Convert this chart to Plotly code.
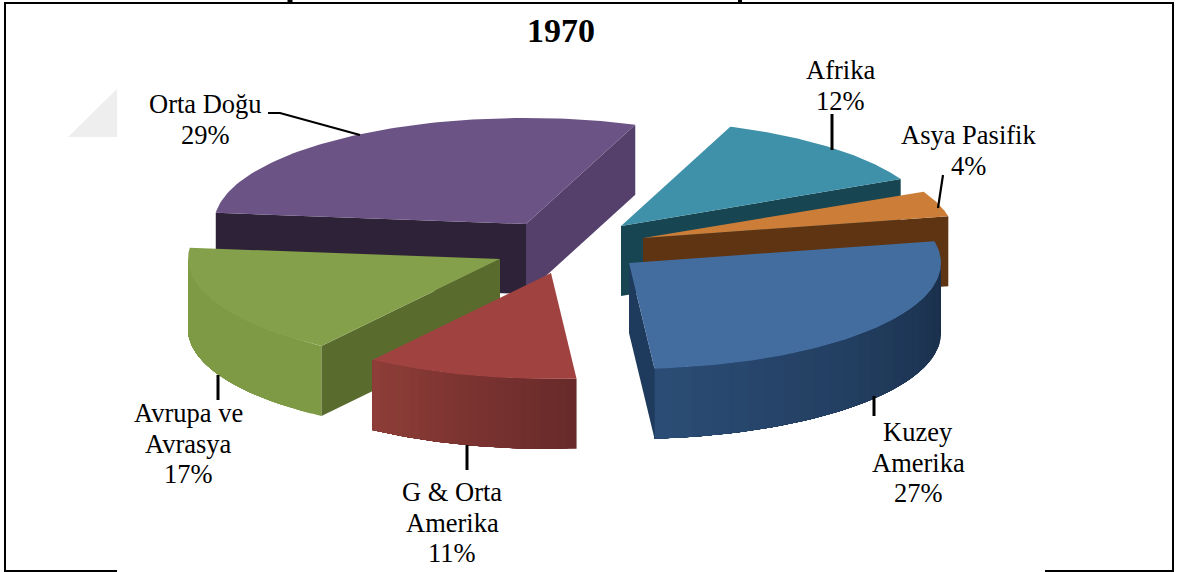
import numpy as np
import plotly.graph_objects as go

# ---- data ----
regions = ["Afrika", "Asya Pasifik", "Kuzey<br>Amerika", "G & Orta<br>Amerika", "Avrupa ve<br>Avrasya", "Orta Doğu"]
shares = [12, 4, 27, 11, 17, 29]
title_text = "1970"

# ---- pie geometry (per slice, same order as the data) ----
ROT = 20.5
RX, RY = 312, 106
DEPTH = 70
apex_x = [621, 643, 629, 551, 500, 526]
apex_y = [226, 238, 263, 273, 259, 224]
top_col = ["#3F91A9", "#CC7E38", "#436C9F", "#A04240", "#84A04A", "#6B5385"]
rim_a = ["#2F7488", "#8A5420", "#2B4C74", "#8E3D38", "#7E9A45", "#54406B"]
rim_b = ["#2F7488", "#8A5420", "#192E4A", "#682A2A", "#7E9A45", "#54406B"]
start_face = [None, None, None, None, "#5A6B2E", "#2E2238"]
end_face = ["#174552", "#5F3412", "#1E3A5C", None, None, "#54406B"]
label_x = [840, 968, 918, 452, 188, 205]
label_y = [70, 135, 432, 492, 413, 104]
draw_order = [5, 0, 1, 2, 4, 3]
LINE_STEP = 30.7


def hexmix(a, b, t):
    ca = [int(a[i:i + 2], 16) for i in (1, 3, 5)]
    cb = [int(b[i:i + 2], 16) for i in (1, 3, 5)]
    return "rgb(%d,%d,%d)" % tuple(round(x + (y - x) * t) for x, y in zip(ca, cb))


def rim_xy(i, theta):
    t = np.radians(theta)
    return apex_x[i] + RX * np.sin(t), apex_y[i] - RY * np.cos(t)


def poly(x, y, color):
    return go.Scatter(x=list(x), y=list(y), mode="lines", fill="toself", fillcolor=color,
                      line=dict(color=color, width=0), hoverinfo="skip", showlegend=False)


fig = go.Figure()
edges = ROT + np.cumsum([0] + shares) * 3.6

for i in draw_order:
    a0, a1 = edges[i], edges[i + 1]
    ax, ay = apex_x[i], apex_y[i]
    x0, y0 = rim_xy(i, a0)
    x1, y1 = rim_xy(i, a1)
    # outer rim: only its front half can be seen
    r0, r1 = max(a0, 90), min(a1, 270)
    if r1 > r0:
        n = 24
        cuts = np.linspace(r0, r1, n + 1)
        for k in range(n):
            seg = np.linspace(cuts[k], r1, 60)
            sx, sy = rim_xy(i, seg)
            col = hexmix(rim_b[i], rim_a[i], k / (n - 1))
            fig.add_trace(poly(list(sx) + list(sx[::-1]), list(sy) + list(sy[::-1] + DEPTH), col))
    if end_face[i]:
        fig.add_trace(poly([ax, x1, x1, ax], [ay, y1, y1 + DEPTH, ay + DEPTH], end_face[i]))
    if start_face[i]:
        fig.add_trace(poly([ax, x0, x0, ax], [ay, y0, y0 + DEPTH, ay + DEPTH], start_face[i]))
    tx, ty = rim_xy(i, np.linspace(a0, a1, 80))
    fig.add_trace(poly([ax] + list(tx) + [ax], [ay] + list(ty) + [ay], top_col[i]))

# ---- leader lines ----
leaders = [
    ([268, 280, 360], [113, 113, 135], 2.2),
    ([832, 832], [114, 150], 3),
    ([943, 938], [175, 208], 2.2),
    ([218, 218], [375, 400], 3),
    ([467, 467], [445, 470], 3),
    ([874, 874], [396, 416], 3),
]
for lx, ly, lw in leaders:
    fig.add_trace(go.Scatter(x=lx, y=ly, mode="lines", line=dict(color="black", width=lw),
                             hoverinfo="skip", showlegend=False))

FONT = "Liberation Serif"
annotations = []
for i in range(len(shares)):
    lines = regions[i].split("<br>") + [f"{shares[i]}%"]
    for j, line in enumerate(lines):
        annotations.append(dict(x=label_x[i], y=label_y[i] + j * LINE_STEP, xref="x", yref="y",
                                showarrow=False, text=line,
                                font=dict(family=FONT, size=26.5, color="black")))
annotations.append(dict(x=561, y=30, xref="x", yref="y", showarrow=False, text=f"<b>{title_text}</b>",
                        font=dict(family=FONT, size=34, color="black")))

frame = [
    dict(x0=5, x1=5, y0=2, y1=572, w=2),
    dict(x0=4, x1=1174, y0=3, y1=3, w=2),
    dict(x0=1173, x1=1173, y0=2, y1=572, w=2),
    dict(x0=4, x1=117, y0=571, y1=571, w=2),
    dict(x0=1045, x1=1174, y0=571, y1=571, w=2),
    # clipped descenders of the cut-off heading above the frame
    dict(x0=290, x1=290, y0=0, y1=3, w=5),
    dict(x0=740, x1=740, y0=0, y1=3, w=4),
]
shapes = [dict(type="line", x0=s["x0"], x1=s["x1"], y0=s["y0"], y1=s["y1"], xref="x", yref="y",
               line=dict(color="black", width=s["w"]), layer="below") for s in frame]
shapes.append(dict(type="path", path="M117,89 L117,137 L68,137 Z", xref="x", yref="y",
                   fillcolor="#EEEEEE", line=dict(width=0), layer="below"))

fig.update_layout(
    width=1187, height=572, margin=dict(l=0, r=0, t=0, b=0),
    paper_bgcolor="white", plot_bgcolor="white", showlegend=False,
    xaxis=dict(range=[0, 1187], visible=False, fixedrange=True),
    yaxis=dict(range=[572, 0], visible=False, fixedrange=True),
    annotations=annotations, shapes=shapes,
)
fig.write_html("out.html", post_script="document.body.style.margin='0';", config=dict(displayModeBar=False))
